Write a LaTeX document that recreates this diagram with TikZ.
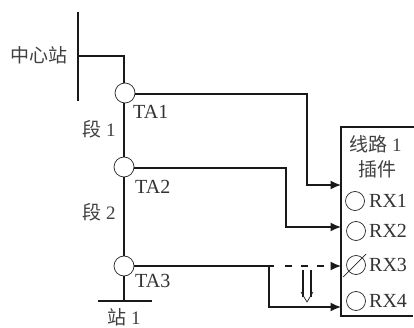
\documentclass[tikz,border=0pt]{standalone}
\usepackage{fontspec}
\setmainfont{Liberation Serif}
\newfontfamily\cjk{Noto Sans CJK SC}
\usetikzlibrary{arrows.meta}
\tikzset{
  wire/.style={line width=1.3pt,draw=black!90},
  feed/.style={wire,-{Latex[length=10.5pt,width=9pt]}},
  ta/.style={circle,draw=black!85,line width=0.7pt,minimum size=20pt,inner sep=0pt,fill=white},
  rx/.style={circle,draw=black!85,line width=0.7pt,minimum size=19pt,inner sep=0pt},
  lab/.style={inner sep=0pt,font=\fontsize{20}{22}\selectfont,text=black!80},
  cn/.style={inner sep=0pt,font=\fontsize{19}{21}\selectfont\cjk,text=black!75},
}
\begin{document}
\begin{tikzpicture}[x=1pt,y=-1pt]
\useasboundingbox (0,0) rectangle (414,328);
\fill[white] (0,0) rectangle (414,328);
\coordinate (bt) at (78,12);
\coordinate (bb) at (78,101);
\coordinate (bm) at (78,56);
\coordinate (bk) at (124,56);
\draw[wire] (bt) -- (bb);
\node[ta] (t1) at (125,93) {};
\node[ta] (t2) at (124,167) {};
\node[ta] (t3) at (124,266) {};
\coordinate (s) at (124,301);
\coordinate (sl) at (98,301);
\coordinate (sr) at (152,301);
\draw[wire] (bm) -- (bk) -- (t1.north -| bk);
\draw[wire] (t1.south -| bk) -- (t2.north);
\draw[wire] (t2.south) -- (t3.north);
\draw[wire] (t3.south) -- (s);
\draw[wire] (sl) -- (sr);
\coordinate (bx1) at (414,127);
\coordinate (bx2) at (341,127);
\coordinate (bx3) at (341,316);
\coordinate (bx4) at (413,316);
\draw[wire,miter limit=10] (bx1) -- (bx2) -- (bx3) -- (bx4);
\coordinate (e1) at (341,185);
\coordinate (e2) at (341,227);
\coordinate (e3) at (341,266);
\coordinate (e4) at (341,307);
\coordinate (k1) at (307,94);
\coordinate (k2) at (286,168);
\coordinate (k3) at (269,266);
\coordinate (d0) at (274,266);
\coordinate (d1) at (331,266);
\coordinate (d2) at (285,266);
\coordinate (d3) at (323.5,266);
\draw[feed] (t1.east |- k1) -- (k1) -- (k1 |- e1) -- (e1);
\draw[feed] (t2.east |- k2) -- (k2) -- (k2 |- e2) -- (e2);
\draw[wire] (t3.east) -- (d0);
\draw[feed] (k3) -- (k3 |- e4) -- (e4);
\draw[line width=1.3pt,draw=black!90,dash pattern=on 6.5pt off 9.5pt] (d2) -- (d3);
\draw[feed] (d1) -- (e3);
\coordinate (h0) at (307,270);
\coordinate (h1) at (307,302);
\draw[black!90,line width=1.2pt] (h0) ++(-4,0) -- ++(0,27);
\draw[black!90,line width=1.2pt] (h0) ++(4,0) -- ++(0,27);
\draw[black!85,line width=0.7pt,line join=miter] (h1) ++(-6,-10) -- (h1) -- ++(6,-10);
\node[rx] (r1) at (355,201) {};
\node[rx] (r2) at (356,231) {};
\node[rx] (r3) at (356,265) {};
\node[rx] (r4) at (356,301) {};
\draw[black!85,line width=0.7pt] (r3) ++(-13,12) -- ++(23,-23);
\node[lab,anchor=west] (x1) at (369,201) {RX1};
\node[lab,anchor=west] (x2) at (369,231) {RX2};
\node[lab,anchor=west] (x3) at (369,265) {RX3};
\node[lab,anchor=west] (x4) at (369,301) {RX4};
\node[lab,anchor=west] (a1) at (133,112) {TA1};
\node[lab,anchor=west] (a2) at (135,187) {TA2};
\node[lab,anchor=west] (a3) at (135,281) {TA3};
\node[cn,anchor=center] (c0) at (39,55) {中心站};
\node[cn,anchor=west] (c1) at (82,129) {段\hspace{5pt}{\fontspec{Liberation Serif}1}};
\node[cn,anchor=west] (c2) at (82,212) {段\hspace{5pt}{\fontspec{Liberation Serif}2}};
\node[cn,anchor=west] (c3) at (107,317) {站\hspace{5pt}{\fontspec{Liberation Serif}1}};
\node[cn,anchor=west] (c4) at (349,144) {线路\hspace{5pt}{\fontspec{Liberation Serif}1}};
\node[cn,anchor=center] (c5) at (377,169) {插件};
\end{tikzpicture}
\end{document}
